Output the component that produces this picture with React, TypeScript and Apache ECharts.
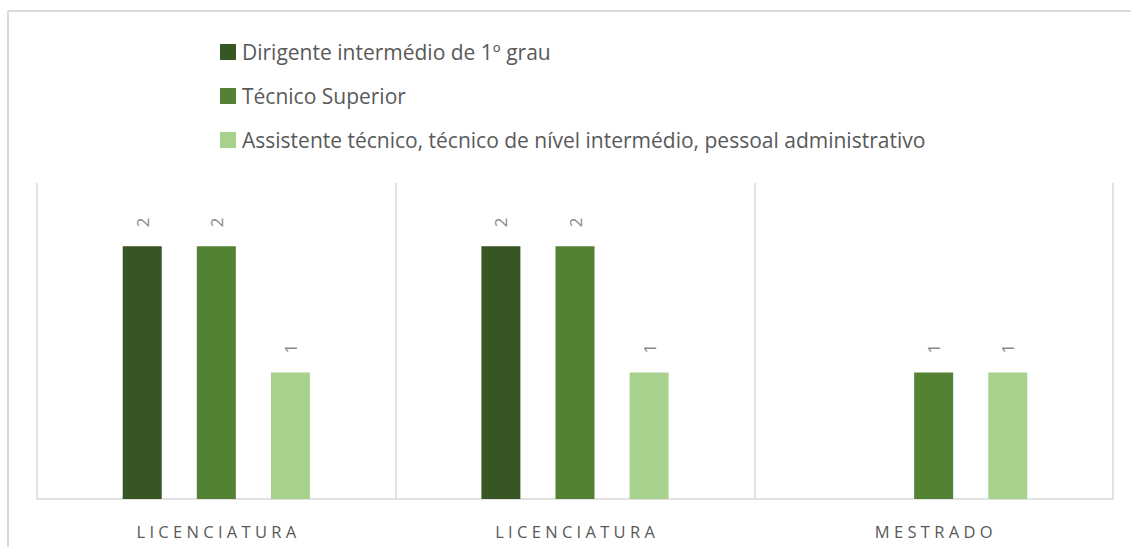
import React, { useEffect, useRef } from "react";
import * as echarts from "echarts";

const categories = ["LICENCIATURA", "LICENCIATURA", "MESTRADO"];
const seriesNames = [
  "Dirigente intermédio de 1º grau",
  "Técnico Superior",
  "Assistente técnico, técnico de nível intermédio, pessoal administrativo",
];
const dirigente: (number | null)[] = [2, 2, null];
const tecnicoSuperior: (number | null)[] = [2, 2, 1];
const assistente: (number | null)[] = [1, 1, 1];
const colors = ["#375623", "#548235", "#A9D18E"];

export default function App() {
  const ref = useRef<HTMLDivElement>(null);
  useEffect(() => {
    if (!ref.current) return;
    const chart = echarts.init(ref.current, null, { renderer: "svg" });
    const font = "'Open Sans', sans-serif";
    const label = {
      show: true,
      position: "top" as const,
      rotate: 90,
      distance: 19,
      align: "left" as const,
      verticalAlign: "middle" as const,
      color: "#8a8a8a",
      fontSize: 17,
      fontFamily: font,
    };
    const datasets = [dirigente, tecnicoSuperior, assistente];
    chart.setOption({
      animation: false,
      backgroundColor: "#ffffff",
      textStyle: { fontFamily: font },
      legend: {
        orient: "vertical",
        left: 215,
        top: 36.5,
        itemWidth: 16,
        itemHeight: 16,
        itemGap: 23,
        icon: "rect",
        textStyle: {
          color: "#595959",
          fontSize: 21,
          fontFamily: font,
          lineHeight: 19,
          padding: [0, 0, 0, 1],
        },
        data: seriesNames,
      },
      grid: { left: 37, right: 18, top: 183, bottom: 48 },
      xAxis: {
        type: "category",
        data: categories,
        axisTick: { show: false },
        axisLine: { show: true, lineStyle: { color: "#d9d9d9", width: 1.5 } },
        splitLine: { show: true, lineStyle: { color: "#d9d9d9", width: 1.5 } },
        axisLabel: {
          color: "#595959",
          fontSize: 16.5,
          margin: 24,
          fontFamily: font,
        },
      },
      yAxis: {
        type: "value",
        min: 0,
        max: 2.5,
        show: false,
      },
      graphic: [
        {
          type: "line",
          shape: { x1: 8, y1: 11, x2: 1131, y2: 11 },
          style: { stroke: "#d9d9d9", lineWidth: 2 },
          silent: true,
        },
        {
          type: "line",
          shape: { x1: 8, y1: 11, x2: 8, y2: 547 },
          style: { stroke: "#d9d9d9", lineWidth: 2 },
          silent: true,
        },
      ],
      series: seriesNames.map((name, i) => ({
        name,
        type: "bar",
        data: datasets[i],
        barWidth: 39,
        barGap: "90%",
        barCategoryGap: "48%",
        itemStyle: { color: colors[i] },
        label,
      })),
    });
    // widen the category labels with letter spacing, as in the reference
    ref.current.querySelectorAll("text").forEach((t) => {
      if (categories.includes((t.textContent || "").trim())) {
        t.setAttribute("letter-spacing", "4.3px");
        const x = parseFloat(t.getAttribute("x") || "0");
        t.setAttribute("x", String(x + 2.15));
      }
    });
    return () => chart.dispose();
  }, []);
  return (
    <div
      ref={ref}
      style={{ position: "fixed", left: 0, top: 0, width: 1131, height: 547 }}
    />
  );
}
